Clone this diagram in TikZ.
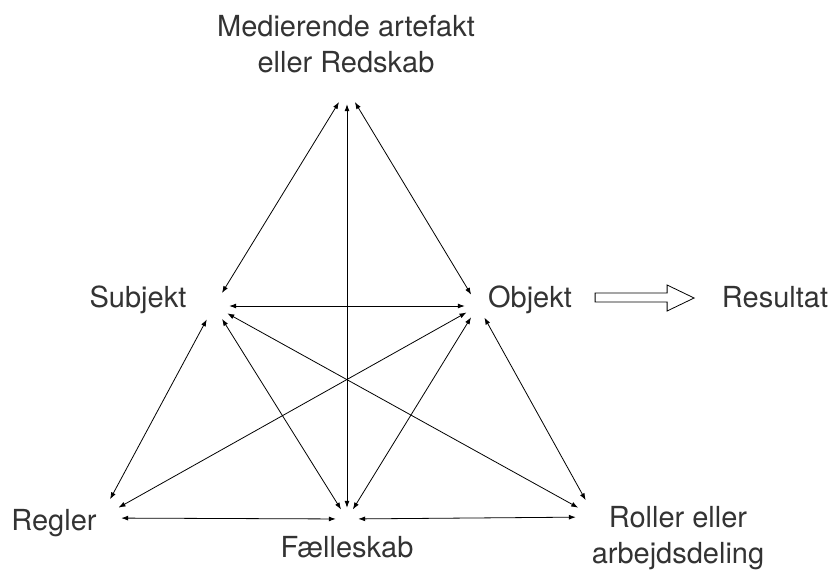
\documentclass[tikz,border=0pt]{standalone}
\usepackage{fontspec}
\setmainfont{TeX Gyre Heros}
\usetikzlibrary{arrows.meta,calc}
\definecolor{txtgray}{gray}{0.2}
\tikzset{
  vertex/.style={circle,inner sep=0pt},
  lbl/.style={anchor=base,align=center,inner sep=0pt,text=txtgray,
    font=\fontsize{29}{36}\selectfont},
}
\begin{document}
\begin{tikzpicture}[x=1pt,y=-1pt,line cap=round,>={Latex[length=7pt,width=5pt]}]
  \useasboundingbox (0,0) rectangle (831,574);
  % hjoerner
  \node[vertex,minimum size=30pt] (med) at (347,89) {};
  \node[vertex,minimum size=30pt] (sub) at (214,306) {};
  \node[vertex,minimum size=26pt] (obj) at (478,306) {};
  \node[vertex,minimum size=42pt] (reg) at (100,518) {};
  \node[vertex,minimum size=22pt] (fael) at (347,519) {};
  \node[vertex,minimum size=38pt] (rol) at (595,517) {};
  % tekster (base = sidste linje)
  \node[lbl] (medtxt) at (346,72) {Medierende artefakt\\eller Redskab};
  \node[lbl] (subtxt) at (138,307) {Subjekt};
  \node[lbl] (objtxt) at (530,307) {Objekt};
  \node[lbl] (restxt) at (775,307) {Resultat};
  \node[lbl] (regtxt) at (54,530) {Regler};
  \node[lbl] (faeltxt) at (347,557) {Fælleskab};
  \node[lbl] (roltxt) at (678,563) {Roller eller\\arbejdsdeling};
  % forbindelser
  \foreach \a/\b in {med/sub,med/fael,med/obj,sub/obj,sub/reg,sub/fael,sub/rol,
                     obj/reg,obj/fael,obj/rol,reg/fael,fael/rol}
    \draw[line width=0.8pt,<->] (\a) -- (\b);
  % pil til resultat
  \draw[line width=0.8pt] ($(objtxt.base east)+(23,-14)$) -- ++(72,0) -- ++(0,-8)
    -- ++(27,13) -- ++(-27,13) -- ++(0,-9) -- ++(-72,0) -- cycle;
\end{tikzpicture}
\end{document}
